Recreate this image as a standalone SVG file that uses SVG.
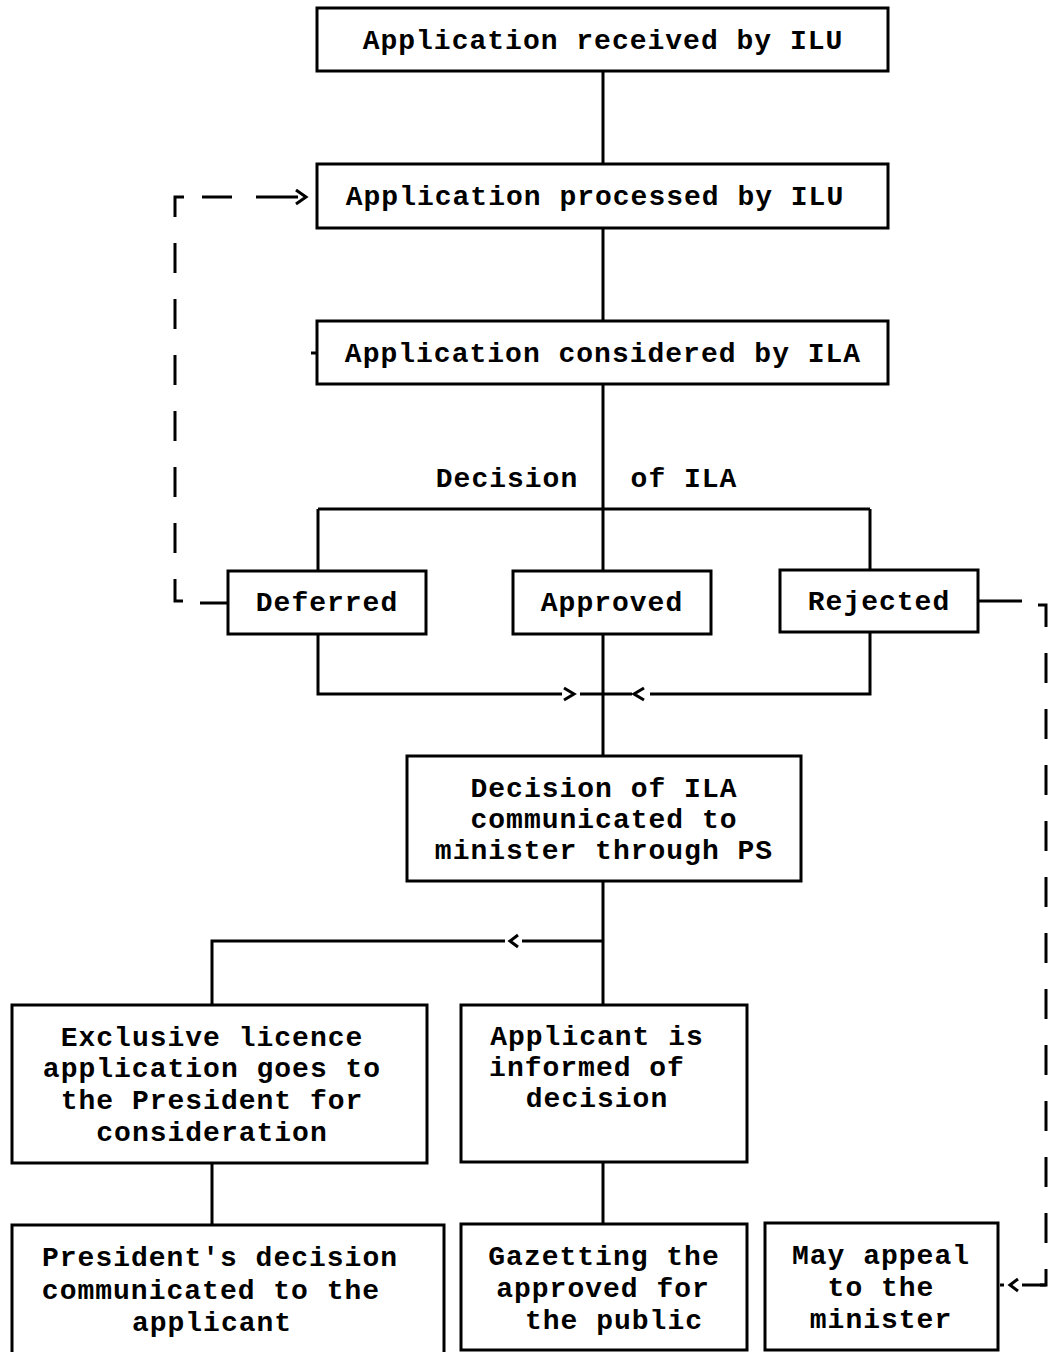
<svg xmlns="http://www.w3.org/2000/svg" width="1052" height="1352" viewBox="0 0 1052 1352">
<style>
.box{fill:#fff;stroke:#000;stroke-width:3}
.t{font-family:"Liberation Mono","DejaVu Sans Mono",monospace;font-weight:bold;font-size:28px;letter-spacing:1px;text-anchor:middle;fill:#000}
.ln{fill:none;stroke:#000;stroke-width:3}
.dash{fill:none;stroke:#000;stroke-width:3;stroke-dasharray:30 26}
.chev{fill:none;stroke:#000;stroke-width:3}
</style>
<g id="connectors">
<path class="ln" d="M603 71V164M603 228V321M603 384V509M318 509H870M318 509V571M603 509V756M870 509V570"/>
<path class="ln" d="M318 634V694H562M580 694H632M650 694H870V632"/>
<path class="chev" d="M564 688L574 694L564 700M644 688L634 694L644 700"/>
<path class="ln" d="M603 881V1005M603 941H522M505 941H212V1005"/>
<path class="chev" d="M518 935L510 941L518 947"/>
<path class="ln" d="M212 1163V1225M603 1162V1224"/>
<path class="ln" d="M228 603H200"/>
<path class="dash" d="M183 601H175V197H184"/>
<path class="ln" d="M202 197H232M256 197H298"/>
<path class="chev" d="M296 190L306 197L296 204"/>
<path class="ln" d="M311 353H317"/>
<path class="ln" d="M978 601H1022"/>
<path class="dash" d="M1038 605H1046V1285H1040"/>
<path class="ln" d="M1046 1285H1022"/>
<path class="chev" d="M1018 1279L1010 1285L1018 1291M1000 1285H1004"/>
</g>
<g id="n1"><rect class="box" x="317" y="8" width="571" height="63"/><text class="t" x="603" y="49">Application received by ILU</text></g>
<g id="n2"><rect class="box" x="317" y="164" width="571" height="64"/><text class="t" x="595" y="205">Application processed by ILU</text></g>
<g id="n3"><rect class="box" x="317" y="321" width="571" height="63"/><text class="t" x="603" y="362">Application considered by ILA</text></g>
<g id="decision-label"><text class="t" x="507" y="487">Decision</text><text class="t" x="684" y="487">of ILA</text></g>
<g id="n4"><rect class="box" x="228" y="571" width="198" height="63"/><text class="t" x="327" y="611">Deferred</text></g>
<g id="n5"><rect class="box" x="513" y="571" width="198" height="63"/><text class="t" x="612" y="611">Approved</text></g>
<g id="n6"><rect class="box" x="780" y="570" width="198" height="62"/><text class="t" x="879" y="610">Rejected</text></g>
<g id="n7"><rect class="box" x="407" y="756" width="394" height="125"/><text class="t" x="604" y="797">Decision of ILA</text><text class="t" x="604" y="828">communicated to</text><text class="t" x="604" y="859">minister through PS</text></g>
<g id="n8"><rect class="box" x="12" y="1005" width="415" height="158"/><text class="t" x="212" y="1046">Exclusive licence</text><text class="t" x="212" y="1077">application goes to</text><text class="t" x="212" y="1109">the President for</text><text class="t" x="212" y="1141">consideration</text></g>
<g id="n9"><rect class="box" x="461" y="1005" width="286" height="157"/><text class="t" x="597" y="1045">Applicant is</text><text class="t" x="587" y="1076">informed of</text><text class="t" x="597" y="1107">decision</text></g>
<g id="n10"><rect class="box" x="12" y="1225" width="432" height="140"/><text class="t" x="220" y="1266">President's decision</text><text class="t" x="211" y="1299">communicated to the</text><text class="t" x="212" y="1331">applicant</text></g>
<g id="n11"><rect class="box" x="461" y="1224" width="286" height="126"/><text class="t" x="604" y="1265">Gazetting the</text><text class="t" x="603" y="1297">approved for</text><text class="t" x="614" y="1329">the public</text></g>
<g id="n12"><rect class="box" x="765" y="1223" width="233" height="127"/><text class="t" x="881" y="1264">May appeal</text><text class="t" x="881" y="1296">to the</text><text class="t" x="881" y="1328">minister</text></g>
</svg>
